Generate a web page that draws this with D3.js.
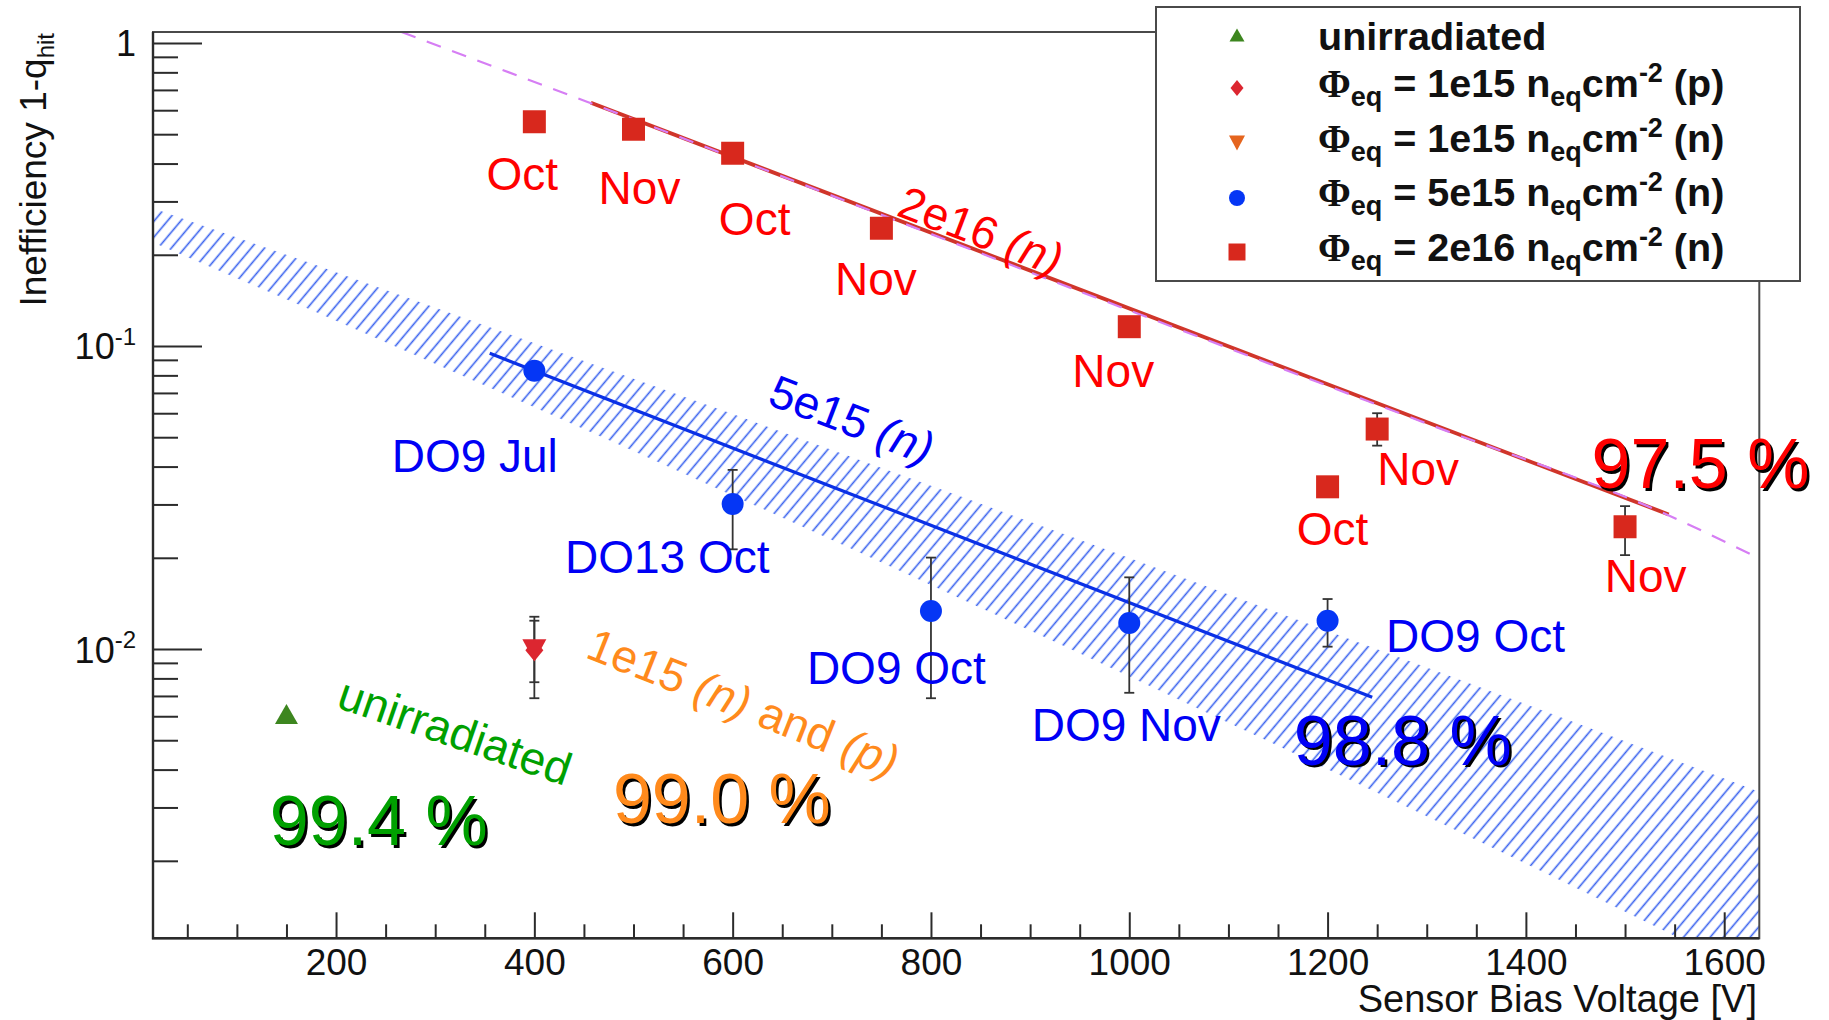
<!DOCTYPE html>
<html>
<head>
<meta charset="utf-8">
<script src="https://cdn.jsdelivr.net/npm/d3@7"></script>
<style>
  html, body { margin: 0; padding: 0; background: #ffffff; }
  svg { display: block; font-family: "Liberation Sans", Arial, Helvetica, sans-serif; }
</style>
</head>
<body>
<svg id="chart" width="1829" height="1020"></svg>
<script>
// ---------------- data ----------------
const xDomain = [15.4, 1635.4];          // bias voltage range [V]
const yDomain = [0.00111, 1.087];        // inefficiency range
const xMajorTicks = [200, 400, 600, 800, 1000, 1200, 1400, 1600];
const yMajorTicks = [1, 0.1, 0.01];
const yTickBase = ["1", "10", "10"];
const yTickExp = ["", "-1", "-2"];

// unirradiated sensor
const unirrV = [150];
const unirrEff = [0.0061];

// 1e15 neq/cm2, protons
const p1e15V = [400];
const p1e15Eff = [0.0099];
const p1e15Lo = [0.00688];
const p1e15Hi = [0.01278];

// 1e15 neq/cm2, neutrons
const n1e15V = [400];
const n1e15Eff = [0.0099];
const n1e15Lo = [0.00777];
const n1e15Hi = [0.0124];

// 5e15 neq/cm2, neutrons
const n5e15V = [400, 600, 800, 1000, 1200];
const n5e15Eff = [0.0829, 0.0301, 0.01334, 0.01218, 0.0124];
const n5e15Lo = [null, 0.02133, 0.00688, 0.00717, 0.01018];
const n5e15Hi = [null, 0.0390, 0.02003, 0.01724, 0.01462];
const n5e15Labels = ["DO9 Jul", "DO13 Oct", "DO9 Oct", "DO9 Nov", "DO9 Oct"];

// 2e16 neq/cm2, neutrons
const n2e16V = [400, 500, 600, 750, 1000, 1250, 1200, 1500];
const n2e16Eff = [0.55, 0.519, 0.4325, 0.2446, 0.1158, 0.0532, 0.0343, 0.0253];
const n2e16Lo = [null, null, null, null, null, 0.0469, null, 0.0204];
const n2e16Hi = [null, null, null, null, null, 0.0600, null, 0.0296];
const n2e16Labels = ["Oct", "Nov", "Oct", "Nov", "Nov", "Nov", "Oct", "Nov"];

// exponential fits
const fit2e16V = [457, 1544];
const fit2e16Eff = [0.635, 0.0278];
const extrap2e16V = [266, 453, 999, 1300, 1543, 1635.4];
const extrap2e16Eff = [1.087, 0.640, 0.1315, 0.0555, 0.0277, 0.0199];
const fit5e15V = [355, 1245];
const fit5e15Eff = [0.0946, 0.00693];

// uncertainty band of the 5e15 fit
const bandV = [15, 200, 400, 600, 800, 1000, 1200, 1400, 1635];
const bandHi = [0.2852, 0.1751, 0.1022, 0.05959, 0.03456, 0.01997, 0.01147, 0.006568, 0.003383];
const bandLo = [0.2200, 0.1211, 0.06276, 0.03213, 0.01625, 0.008121, 0.004012, 0.001956, 0.000828];

// efficiency summaries
const effTexts = ["99.4 %", "99.0 %", "98.8 %", "97.5 %"];

// legend
const legendFluence = [null, "1e15", "1e15", "5e15", "2e16"];
const legendParticle = [null, "(p)", "(n)", "(n)", "(n)"];

// ---------------- layout ----------------
const W = 1829, H = 1020;
const plot = { left: 153, right: 1759.3, top: 32, bottom: 938.3 };
const C = {
  axis: "#2b2b2b",
  red: "#ff0000", redMarker: "#d8281d", redLine: "#d0352a", violet: "#d67ef4",
  blue: "#0000f5", blueMarker: "#0536f5", blueLine: "#0a30e6", hatch: "#3a62ee",
  green: "#00a000", greenMarker: "#3d861f",
  orange: "#ff8a1c", orangeMarker: "#e5651e", pMarker: "#dc2630",
  err: "#333333"
};
const labelFont = 46, bigFont = 70;
const n2e16LabelDx = [-12, 6, 22, -5.5, -16, 41, 5, 20.6];
const n2e16LabelDy = [68, 75, 82, 67, 60, 56, 58, 65];
const n5e15LabelDx = [-59.6, -65.4, -34.6, -3, 148];
const n5e15LabelDy = [101, 69.3, 73, 117.7, 31];

const svg = d3.select("#chart");
const x = d3.scaleLinear().domain(xDomain).range([plot.left, plot.right]);
const y = d3.scaleLog().domain(yDomain).range([plot.bottom, plot.top]);

const defs = svg.append("defs");
defs.append("clipPath").attr("id", "plotClip")
  .append("rect")
  .attr("x", plot.left).attr("y", plot.top)
  .attr("width", plot.right - plot.left).attr("height", plot.bottom - plot.top);

const hatchGap = 10.2;
const hatch = defs.append("pattern").attr("id", "hatch")
  .attr("patternUnits", "userSpaceOnUse")
  .attr("width", hatchGap).attr("height", hatchGap)
  .attr("patternTransform", "rotate(40)");
hatch.append("line")
  .attr("x1", hatchGap / 2).attr("x2", hatchGap / 2).attr("y1", -2).attr("y2", hatchGap + 2)
  .attr("stroke", C.hatch).attr("stroke-width", 1.6);

svg.append("rect").attr("width", W).attr("height", H).attr("fill", "#fff");

const clipped = svg.append("g").attr("clip-path", "url(#plotClip)");

// ---- hatched band ----
const bandData = bandV.map((v, i) => ({ v, lo: bandLo[i], hi: bandHi[i] }));
clipped.append("path")
  .datum(bandData)
  .attr("fill", "url(#hatch)")
  .attr("d", d3.area().x(d => x(d.v)).y0(d => y(d.lo)).y1(d => y(d.hi)).curve(d3.curveMonotoneX));

// ---- fit curves ----
clipped.append("path")
  .datum(fit2e16V.map((v, i) => [v, fit2e16Eff[i]]))
  .attr("fill", "none").attr("stroke", C.redLine).attr("stroke-width", 3.8)
  .attr("d", d3.line().x(d => x(d[0])).y(d => y(d[1])));
clipped.append("path")
  .datum(extrap2e16V.map((v, i) => [v, extrap2e16Eff[i]]))
  .attr("fill", "none").attr("stroke", C.violet).attr("stroke-width", 2.2)
  .attr("stroke-dasharray", "15 12")
  .attr("d", d3.line().x(d => x(d[0])).y(d => y(d[1])).curve(d3.curveMonotoneX));
clipped.append("path")
  .datum(fit5e15V.map((v, i) => [v, fit5e15Eff[i]]))
  .attr("fill", "none").attr("stroke", C.blueLine).attr("stroke-width", 3.2)
  .attr("d", d3.line().x(d => x(d[0])).y(d => y(d[1])));

// ---- markers ----
function markerPath(kind, w, h) {
  switch (kind) {
    case "square": return `M${-w / 2},${-h / 2}h${w}v${h}h${-w}Z`;
    case "triUp": return `M0,${-h / 2}L${w / 2},${h / 2}L${-w / 2},${h / 2}Z`;
    case "triDown": return `M${-w / 2},${-h / 2}L${w / 2},${-h / 2}L0,${h / 2}Z`;
    case "diamond": return `M0,${-h / 2}L${w / 2},0L0,${h / 2}L${-w / 2},0Z`;
    case "circle": {
      const r = w / 2;
      return `M${r},0A${r},${r} 0 1,1 ${-r},0A${r},${r} 0 1,1 ${r},0Z`;
    }
  }
}

function drawErrors(V, lo, hi) {
  const g = clipped.append("g").attr("stroke", C.err).attr("stroke-width", 1.8);
  V.forEach((v, i) => {
    if (lo[i] == null) return;
    const cx = x(v), y0 = y(lo[i]), y1 = y(hi[i]);
    g.append("line").attr("x1", cx).attr("x2", cx).attr("y1", y0).attr("y2", y1);
    g.append("line").attr("x1", cx - 5).attr("x2", cx + 5).attr("y1", y0).attr("y2", y0);
    g.append("line").attr("x1", cx - 5).attr("x2", cx + 5).attr("y1", y1).attr("y2", y1);
  });
}

function drawMarkers(V, eff, kind, w, h, color) {
  clipped.append("g").selectAll("path").data(V).join("path")
    .attr("transform", (v, i) => `translate(${x(v)},${y(eff[i])})`)
    .attr("d", markerPath(kind, w, h))
    .attr("fill", color);
}

drawErrors(p1e15V, p1e15Lo, p1e15Hi);
drawErrors(n1e15V, n1e15Lo, n1e15Hi);
drawErrors(n5e15V, n5e15Lo, n5e15Hi);
drawErrors(n2e16V, n2e16Lo, n2e16Hi);

drawMarkers(unirrV, unirrEff, "triUp", 23, 20, C.greenMarker);
drawMarkers(p1e15V, p1e15Eff, "diamond", 18, 22, C.pMarker);
// the two 1e15 points coincide; the proton point's red shows through the neutron marker
drawMarkers(n1e15V, n1e15Eff, "triDown", 24, 22, C.pMarker);
drawMarkers(n5e15V, n5e15Eff, "circle", 22, 22, C.blueMarker);
drawMarkers(n2e16V, n2e16Eff, "square", 23, 23, C.redMarker);

// ---- point labels ----
const lab = svg.append("g").attr("font-size", labelFont).attr("text-anchor", "middle");
n2e16V.forEach((v, i) => {
  lab.append("text")
    .attr("x", x(v) + n2e16LabelDx[i]).attr("y", y(n2e16Eff[i]) + n2e16LabelDy[i])
    .attr("fill", C.red).text(n2e16Labels[i]);
});
n5e15V.forEach((v, i) => {
  lab.append("text")
    .attr("x", x(v) + n5e15LabelDx[i]).attr("y", y(n5e15Eff[i]) + n5e15LabelDy[i])
    .attr("fill", C.blue).text(n5e15Labels[i]);
});

// ---- rotated series captions (anchors in data coordinates) ----
function caption(v, e, angle, color, parts) {
  const t = svg.append("text")
    .attr("transform", `translate(${x(v)},${y(e)}) rotate(${angle})`)
    .attr("font-size", labelFont).attr("fill", color);
  parts.forEach(p => {
    const s = t.append("tspan").text(p[0]);
    if (p[1]) s.attr("font-style", "italic");
  });
}
caption(763.8, 0.2706, 21, C.red, [["2e16 "], ["(n)", true]]);
caption(633.7, 0.0644, 21, C.blue, [["5e15 "], ["(n)", true]]);
caption(199, 0.00644, 19, C.green, [["unirradiated"]]);
caption(450.1, 0.00941, 21.6, C.orange, [["1e15 "], ["(n)", true], [" and "], ["(p)", true]]);

// ---------------- axes ----------------
const xMinor = d3.range(50, 1650, 50).filter(v => v % 200 !== 0 && v >= xDomain[0] && v <= xDomain[1]);
const yMinor = [];
[0.001, 0.01, 0.1].forEach(d => d3.range(2, 10).forEach(k => {
  const val = d * k;
  if (val >= yDomain[0] && val <= yDomain[1]) yMinor.push(val);
}));

function styleAxis(g) {
  g.select(".domain").remove();
  g.selectAll(".tick line").attr("stroke", C.axis).attr("stroke-width", 2);
}

const gxMinor = svg.append("g").attr("transform", `translate(0,${plot.bottom})`)
  .call(d3.axisBottom(x).tickValues(xMinor).tickSize(-14).tickFormat(""));
styleAxis(gxMinor);
const gx = svg.append("g").attr("transform", `translate(0,${plot.bottom})`)
  .call(d3.axisBottom(x).tickValues(xMajorTicks).tickSize(-26).tickPadding(10.5).tickFormat(d3.format("d")));
styleAxis(gx);
gx.selectAll(".tick text").attr("font-size", 37).attr("fill", "#111")
  .attr("font-family", "'Liberation Sans', Arial, sans-serif");

const gyMinor = svg.append("g").attr("transform", `translate(${plot.left},0)`)
  .call(d3.axisLeft(y).tickValues(yMinor).tickSize(-25).tickFormat(""));
styleAxis(gyMinor);
const gy = svg.append("g").attr("transform", `translate(${plot.left},0)`)
  .call(d3.axisLeft(y).tickValues(yMajorTicks).tickSize(-49).tickFormat(""));
styleAxis(gy);

const yLab = svg.append("g").attr("font-size", 36).attr("fill", "#111").attr("text-anchor", "end");
yMajorTicks.forEach((t, i) => {
  const tx = yLab.append("text").attr("x", 136).attr("y", y(t) + 13.5);
  tx.append("tspan").text(yTickBase[i]);
  if (yTickExp[i]) tx.append("tspan").attr("font-size", 24).attr("dy", -14.5).text(yTickExp[i]);
});

// frame
svg.append("rect")
  .attr("x", plot.left).attr("y", plot.top)
  .attr("width", plot.right - plot.left).attr("height", plot.bottom - plot.top)
  .attr("fill", "none").attr("stroke", "#4a4a4a").attr("stroke-width", 2);
svg.append("path")
  .attr("d", `M${plot.left},${plot.top}V${plot.bottom}H${plot.right}`)
  .attr("fill", "none").attr("stroke", C.axis).attr("stroke-width", 2.4);

// axis titles
svg.append("text")
  .attr("x", 1757).attr("y", 1012).attr("text-anchor", "end")
  .attr("font-size", 38).attr("fill", "#111").text("Sensor Bias Voltage [V]");
const yTitle = svg.append("text")
  .attr("transform", "translate(45.5,33) rotate(-90)")
  .attr("text-anchor", "end").attr("font-size", 37).attr("fill", "#111");
yTitle.append("tspan").text("Inefficiency 1-q");
yTitle.append("tspan").attr("font-size", 24).attr("dy", 8).text("hit");

// ---------------- efficiency summaries ----------------
function bigLabel(v, e, color, str) {
  const g = svg.append("g").attr("font-size", bigFont);
  g.append("text").attr("x", x(v) + 2.5).attr("y", y(e) + 2.5).attr("fill", "#000").text(str);
  g.append("text").attr("x", x(v)).attr("y", y(e)).attr("fill", color).text(str);
}
bigLabel(133.2, 0.002254, C.green, effTexts[0]);
bigLabel(479.2, 0.00266, C.orange, effTexts[1]);
bigLabel(1165.9, 0.004143, C.blue, effTexts[2]);
bigLabel(1466.2, 0.0339, C.red, effTexts[3]);

// ---------------- legend ----------------
const leg = svg.append("g");
leg.append("rect").attr("x", 1156).attr("y", 7).attr("width", 644).attr("height", 274)
  .attr("fill", "#fff").attr("stroke", "#4a4a4a").attr("stroke-width", 2);
const legMarkY = [35, 88, 143, 198, 252];
const legBaseY = [50, 97, 152, 206, 261];
const legKinds = [["triUp", 15, 13, C.greenMarker], ["diamond", 13, 16, C.pMarker],
                  ["triDown", 16, 15, C.orangeMarker], ["circle", 16, 16, C.blueMarker],
                  ["square", 17, 17, C.redMarker]];
legKinds.forEach((k, i) => {
  leg.append("path").attr("transform", `translate(1237,${legMarkY[i]})`)
    .attr("d", markerPath(k[0], k[1], k[2])).attr("fill", k[3]);
});
const legText = leg.append("g").attr("font-size", 39.5).attr("font-weight", "bold").attr("fill", "#111");
legText.append("text").attr("x", 1318).attr("y", legBaseY[0]).text("unirradiated");
for (let i = 1; i < 5; i++) {
  const t = legText.append("text").attr("x", 1318).attr("y", legBaseY[i]);
  t.append("tspan").attr("font-family", "'Liberation Serif', 'Times New Roman', serif").text("\u03A6");
  t.append("tspan").attr("font-size", 27).attr("dy", 9).text("eq");
  t.append("tspan").attr("dy", -9).text(" = " + legendFluence[i] + " n");
  t.append("tspan").attr("font-size", 27).attr("dy", 9).text("eq");
  t.append("tspan").attr("dy", -9).text("cm");
  t.append("tspan").attr("font-size", 27).attr("dy", -15).text("-2");
  t.append("tspan").attr("dy", 15).text(" " + legendParticle[i]);
}
</script>
</body>
</html>
